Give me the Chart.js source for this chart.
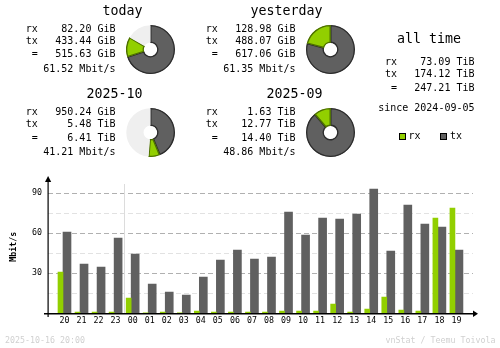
<!DOCTYPE html>
<html>
<head>
<meta charset="utf-8">
<script src="https://cdn.jsdelivr.net/npm/chart.js@4"></script>
<style>
  html, body { margin: 0; padding: 0; background: #fff; }
  #wrap { position: relative; width: 500px; height: 348px; overflow: hidden; font-family: "DejaVu Sans Mono", monospace; color: #000; }
  #wrap canvas { position: absolute; }
  .t { position: absolute; white-space: pre; font-size: 10px; line-height: 12px; }
  .big { font-size: 13.3px; line-height: 16px; }
  .tiny { font-size: 8.3px; line-height: 10px; color: #d0d0d0; }
  .sq { position: absolute; width: 5px; height: 5px; border: 1px solid #000; }
</style>
</head>
<body>
<div id="wrap">
  <canvas id="bars" width="500" height="348" style="left:0;top:0"></canvas>
</div>
<script>
// hourly bars, Mbit/s
const hours = ['20','21','22','23','00','01','02','03','04','05','06','07','08','09','10','11','12','13','14','15','16','17','18','19'];
const rxRate = [31, 1, 1, 1, 11.5, 0.3, 1, 0.2, 1.75, 1, 1, 1, 1, 1.75, 1.75, 1.75, 7, 1, 3.25, 12.25, 2.5, 1.75, 71.5, 79];
const txRate = [61, 37, 34.75, 56.5, 44.5, 22, 16, 13.75, 27.25, 40, 47.5, 40.75, 42.25, 76, 58.75, 71.5, 70.75, 74.5, 93.25, 46.75, 81.25, 67, 64.75, 47.5];
const yTicks = [0, 15, 30, 45, 60, 75, 90, 100];

// summary blocks (today, yesterday, month, last month)
const pieTitles = ['today', 'yesterday', '2025-10', '2025-09'];
const rxText = ['82.20 GiB', '128.98 GiB', '950.24 GiB', '1.63 TiB'];
const txText = ['433.44 GiB', '488.07 GiB', '5.48 TiB', '12.77 TiB'];
const totText = ['515.63 GiB', '617.06 GiB', '6.41 TiB', '14.40 TiB'];
const rateText = ['61.52 Mbit/s', '61.35 Mbit/s', '41.21 Mbit/s', '48.86 Mbit/s'];
// slice sizes in each pie's own unit; rest = part of period not elapsed yet
const pieTx = [433.44, 488.07, 5.48, 12.77];
const pieRx = [82.20, 128.98, 0.93, 1.63];
const pieRest = [103, 0, 6.1, 0];

const allTime = ['73.09 TiB', '174.12 TiB', '247.21 TiB'];
const sinceText = 'since 2024-09-05';

const RX = '#92cf00', TX = '#606060', REST = '#efefef';

const wrap = document.getElementById('wrap');
function txt(s, cls, x, y, align) {
  const d = document.createElement('div');
  d.className = 't ' + (cls || '');
  d.textContent = s;
  const lh = cls === 'big' ? 16 : cls === 'tiny' ? 10 : 12;
  d.style.top = (y - lh / 2) + 'px';
  if (align === 'right') d.style.right = (500 - x) + 'px';
  else if (align === 'center') { d.style.left = (x - 100) + 'px'; d.style.width = '200px'; d.style.textAlign = 'center'; }
  else d.style.left = x + 'px';
  wrap.appendChild(d);
}

// text blocks
pieTitles.forEach((title, i) => {
  const dx = (i % 2) * 180;
  const ty = i < 2 ? 11 : 94.3;
  txt(title, 'big', 142.5 + dx, ty, 'right');
  txt('rx', '', 37.7 + dx, ty + 18, 'right');
  txt('tx', '', 37.7 + dx, ty + 30, 'right');
  txt('=', '', 37.7 + dx, ty + 43.3, 'right');
  txt(rxText[i], '', 115.5 + dx, ty + 18, 'right');
  txt(txText[i], '', 115.5 + dx, ty + 30, 'right');
  txt(totText[i], '', 115.5 + dx, ty + 43.3, 'right');
  txt(rateText[i], '', 115.5 + dx, ty + 58, 'right');

  const c = document.createElement('canvas');
  c.width = 49; c.height = 49;
  c.style.left = (150 + dx - 24.5) + 'px';
  c.style.top = ((i < 2 ? 49 : 132.3) - 24.5) + 'px';
  wrap.appendChild(c);
  new Chart(c, {
    type: 'doughnut',
    data: {
      labels: ['tx', 'rx', 'rest'],
      datasets: [{
        data: [pieTx[i], pieRx[i], pieRest[i]],
        backgroundColor: [TX, RX, REST],
        borderColor: ['#2c2c2c', '#4d7000', REST],
        borderWidth: [1, 1, 0],
        borderAlign: 'inner'
      }]
    },
    options: {
      responsive: false, animation: false, cutout: '27%',
      layout: { padding: 0 },
      plugins: { legend: { display: false }, tooltip: { enabled: false } }
    }
  });
});

txt('all time', 'big', 429, 39.3, 'center');
txt('rx', '', 397, 62, 'right');
txt('tx', '', 397, 74, 'right');
txt('=', '', 397, 88, 'right');
txt(allTime[0], '', 474.5, 62, 'right');
txt(allTime[1], '', 474.5, 74, 'right');
txt(allTime[2], '', 474.5, 88, 'right');
txt(sinceText, '', 474.5, 108, 'right');

// legend
[[398.5, RX, 'rx'], [440, TX, 'tx']].forEach(([x, col, name]) => {
  const s = document.createElement('div');
  s.className = 'sq';
  s.style.left = x + 'px'; s.style.top = '132.5px'; s.style.background = col;
  wrap.appendChild(s);
  txt(name, '', x + 10, 136, 'left');
});

txt('2025-10-16 20:00', 'tiny', 5, 340, 'left');
txt('vnStat / Teemu Toivola', 'tiny', 495.5, 340, 'right');

// axes drawn like vnstat: arrows, day separator
const axesPlugin = {
  id: 'axes',
  afterDatasetsDraw(chart) {
    const { ctx, scales: { x, y } } = chart;
    const y0 = Math.round(y.getPixelForValue(0));
    const xl = Math.round(chart.chartArea.left);
    const xr = Math.round(chart.chartArea.right);
    ctx.save();
    // day boundary
    ctx.fillStyle = '#dcdcdc';
    ctx.fillRect(Math.round(x.getPixelForValue(3.6)), Math.round(y.getPixelForValue(97)), 1, y0 - Math.round(y.getPixelForValue(97)));
    ctx.fillStyle = '#000';
    // x axis + arrow
    ctx.fillRect(xl - 4, y0, xr - xl + 5, 1.5);
    ctx.beginPath();
    ctx.moveTo(xr + 5, y0 + 0.75); ctx.lineTo(xr, y0 - 2.5); ctx.lineTo(xr, y0 + 4); ctx.closePath(); ctx.fill();
    // y axis + arrow
    const yt = Math.round(chart.chartArea.top);
    ctx.fillRect(xl - 0.5, yt, 1.2, y0 - yt + 4);
    ctx.beginPath();
    ctx.moveTo(xl + 0.1, yt - 4); ctx.lineTo(xl - 3, yt + 2); ctx.lineTo(xl + 3.2, yt + 2); ctx.closePath(); ctx.fill();
    ctx.restore();
  }
};

const tickFont = { family: 'DejaVu Sans Mono', size: 8.3 };
new Chart(document.getElementById('bars'), {
  type: 'bar',
  data: {
    datasets: [
      { label: 'rx', data: rxRate.map((v, i) => ({ x: i, y: v })), backgroundColor: RX, barThickness: 5 },
      { label: 'tx', data: txRate.map((v, i) => ({ x: i, y: v })), backgroundColor: TX, barThickness: 8 }
    ]
  },
  options: {
    responsive: false, animation: false,
    layout: { padding: { top: 180, right: 27, left: 0, bottom: 0 } },
    plugins: { legend: { display: false }, tooltip: { enabled: false } },
    scales: {
      x: {
        type: 'linear', min: -0.88, max: 24.06, offset: false,
        afterBuildTicks: s => { s.ticks = hours.map((h, i) => ({ value: i })); },
        afterFit: s => { s.height = 34.7; },
        grid: { display: false, offset: false, drawTicks: false }, border: { display: false },
        ticks: { autoSkip: false, maxRotation: 0, padding: 3, labelOffset: 1.5, color: '#000', font: tickFont,
                 callback: v => hours[v] }
      },
      y: {
        min: 0, max: 100,
        afterBuildTicks: s => { s.ticks = yTicks.map(v => ({ value: v })); },
        afterFit: s => { s.width = 48; },
        border: { display: false, dash: [5, 3] },
        grid: {
          drawTicks: false,
          color: c => {
            const v = c.tick.value;
            if (v === 0 || v === 100) return 'rgba(0,0,0,0)';
            return v % 30 === 0 ? '#b0b0b0' : '#e2e2e2';
          }
        },
        ticks: { padding: 6, color: '#000', font: tickFont,
                 callback: v => (v % 30 === 0 && v > 0 && v < 100) ? v : '' },
        title: { display: true, text: 'Mbit/s', color: '#000', font: { family: 'DejaVu Sans Mono', size: 8.3, weight: 'bold' }, padding: { top: 9 } }
      }
    }
  },
  plugins: [axesPlugin]
});
</script>
</body>
</html>
